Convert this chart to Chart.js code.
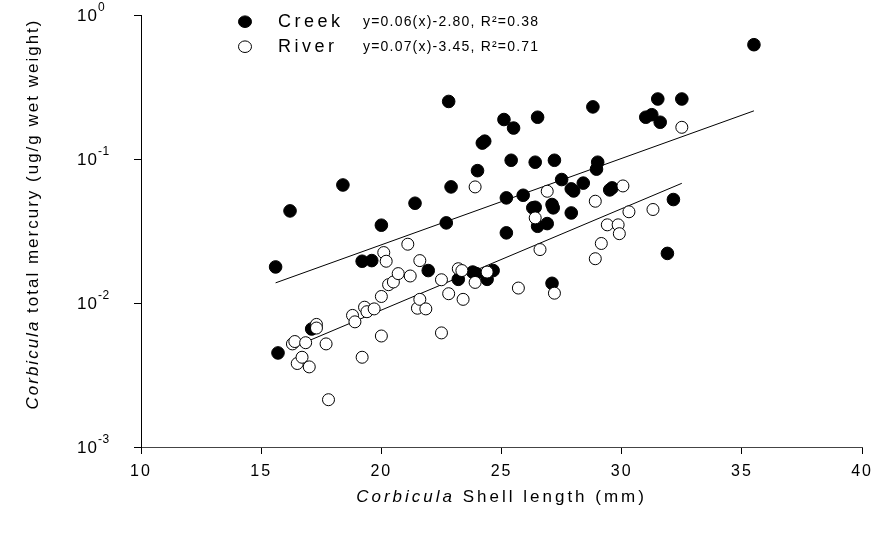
<!DOCTYPE html>
<html>
<head>
<meta charset="utf-8">
<script src="https://cdn.jsdelivr.net/npm/chart.js@4.4.1/dist/chart.umd.min.js"></script>
<style>
  html, body { margin: 0; padding: 0; background: #fff; }
  #wrap { width: 879px; height: 533px; }
</style>
</head>
<body>
<div id="wrap"><canvas id="canvas" width="879" height="533"></canvas></div>
<script>
// shell length (mm) and total mercury (ug/g wet weight)
const creekX = [15.6, 15.7, 16.2, 17.1, 18.4, 19.2, 19.6, 20.0, 21.4, 21.95, 22.7, 22.8, 22.9, 23.2,
    23.8, 23.95, 24.0, 24.2, 24.3, 24.4, 24.65, 25.1, 25.2, 25.2, 25.4, 25.5, 25.9, 26.3, 26.4,
    26.4, 26.5, 26.5, 26.9, 27.1, 27.15, 27.1, 27.2, 27.5, 27.9, 28.0, 27.9, 28.4, 28.8, 28.95,
    29.0, 29.5, 29.6, 31.0, 31.25, 31.5, 31.6, 31.9, 32.15, 32.5, 35.5];
const creekY = [0.0178, 0.0045, 0.0436, 0.0066, 0.066, 0.0195, 0.0197, 0.0347, 0.0493, 0.0168, 0.036,
    0.251, 0.064, 0.0146, 0.0164, 0.0160, 0.083, 0.129, 0.133, 0.0146, 0.0168, 0.188, 0.0537, 0.0307,
    0.098, 0.164, 0.056, 0.0458, 0.0462, 0.095, 0.195, 0.0341, 0.0356, 0.0483, 0.0458, 0.0137, 0.098,
    0.072, 0.062, 0.060, 0.0422, 0.068, 0.230, 0.085, 0.095, 0.061, 0.063, 0.195, 0.203, 0.261,
    0.180, 0.0221, 0.0523, 0.261, 0.622];

const riverX = [16.3, 16.4, 16.5, 16.7, 16.85, 17.0, 17.3, 17.3, 17.7, 17.8, 18.8, 18.9, 19.2, 19.3,
    19.4, 19.7, 20.0, 20.0, 20.1, 20.2, 20.3, 20.5, 20.7, 21.1, 21.2, 21.5, 21.6, 21.6, 21.85, 22.5,
    22.5, 22.8, 23.2, 23.35, 23.4, 23.9, 23.9, 24.4, 25.7, 26.4, 26.6, 26.9, 27.2, 28.9, 28.9, 29.15,
    29.4, 29.85, 29.9, 30.05, 30.3, 31.3, 32.5];
const riverY = [0.0052, 0.0054, 0.0038, 0.0042, 0.0053, 0.0036, 0.0071, 0.0067, 0.0052, 0.00213, 0.0082,
    0.0074, 0.0042, 0.00935, 0.0087, 0.0091, 0.0111, 0.0059, 0.0224, 0.0195, 0.0134, 0.0140, 0.0160,
    0.0256, 0.0154, 0.0092, 0.0106, 0.0197, 0.0091, 0.0145, 0.0062, 0.0116, 0.0173, 0.0168, 0.0106,
    0.0139, 0.064, 0.0164, 0.0127, 0.039, 0.0235, 0.0597, 0.0117, 0.0509, 0.0203, 0.0259, 0.0349,
    0.0349, 0.0303, 0.065, 0.0430, 0.0446, 0.166];

// end points of the two fitted lines
const creekFitX = [15.6, 35.5];
const creekFitY = [0.0138, 0.216];
const riverFitX = [16.3, 32.5];
const riverFitY = [0.0049, 0.0678];

const seriesNames = ['Creek', 'River'];
const fitLabels = ['y=0.06(x)-2.80, R\u00b2=0.38', 'y=0.07(x)-3.45, R\u00b2=0.71'];
const xTicks = [10, 15, 20, 25, 30, 35, 40];
const yTicks = [0.001, 0.01, 0.1, 1];
const yTickExponents = ['-3', '-2', '-1', '0'];

const FONT = '"Liberation Sans", Arial, sans-serif';

let pairs = function (xs, ys) {
    return xs.map((x, i) => ({x: x, y: ys[i]}));
}

let textParts = function (ctx, parts, x, y, align) {
    let total = 0;
    parts.forEach(p => { ctx.font = p.font; total += ctx.measureText(p.text).width; });
    let cx = align === 'center' ? x - total / 2 : x;
    parts.forEach(p => {
        ctx.font = p.font;
        ctx.fillText(p.text, cx, y);
        cx += ctx.measureText(p.text).width;
    });
}

const decorations = {
    id: 'decorations',
    beforeDraw(chart) {
        // spaced-out tick labels, as in the original export
        chart.ctx.letterSpacing = '2px';
    },
    afterDraw(chart) {
        const ctx = chart.ctx;
        const area = chart.chartArea;
        const yScale = chart.scales.y;
        ctx.save();
        ctx.fillStyle = '#000';
        ctx.textBaseline = 'middle';
        ctx.textAlign = 'left';

        // y tick labels with raised exponents
        yTicks.forEach((v, i) => {
            const py = yScale.getPixelForValue(v);
            ctx.letterSpacing = '1px';
            ctx.font = '17px ' + FONT;
            ctx.fillText('10', 77, py + 1);
            ctx.letterSpacing = '0.5px';
            ctx.font = '12px ' + FONT;
            ctx.fillText(yTickExponents[i], 98, py - 7);
        });

        // x title
        ctx.letterSpacing = '3px';
        textParts(ctx, [
            {text: 'Corbicula', font: 'italic 17px ' + FONT},
            {text: ' Shell length (mm)', font: '17px ' + FONT}
        ], (area.left + area.right) / 2, 497, 'center');

        // y title
        ctx.save();
        ctx.translate(33, 214);
        ctx.rotate(-Math.PI / 2);
        ctx.letterSpacing = '2px';
        textParts(ctx, [
            {text: 'Corbicula', font: 'italic 17px ' + FONT},
            {text: ' total mercury (ug/g wet weight)', font: '17px ' + FONT}
        ], 0, 0, 'center');
        ctx.restore();

        // legend
        const rows = [21.7, 46.7];
        rows.forEach((ry, i) => {
            ctx.beginPath();
            ctx.ellipse(245, ry, 6.5, 5.8, 0, 0, Math.PI * 2);
            ctx.fillStyle = i === 0 ? '#000' : '#fff';
            ctx.fill();
            ctx.lineWidth = 1;
            ctx.strokeStyle = '#000';
            ctx.stroke();
            ctx.fillStyle = '#000';
            ctx.letterSpacing = '3.5px';
            ctx.font = '18px ' + FONT;
            ctx.fillText(seriesNames[i], 278, ry);
            ctx.letterSpacing = '1.2px';
            ctx.font = '14px ' + FONT;
            ctx.fillText(fitLabels[i], 363, ry);
        });
        ctx.restore();
        ctx.letterSpacing = '0px';
    }
};

let main = function () {
    new Chart(document.getElementById('canvas').getContext('2d'), {
        type: 'scatter',
        data: {
            datasets: [{
                label: 'Creek fit',
                type: 'line',
                data: pairs(creekFitX, creekFitY),
                borderColor: '#000',
                borderWidth: 1,
                pointRadius: 0,
                order: 4
            }, {
                label: 'River fit',
                type: 'line',
                data: pairs(riverFitX, riverFitY),
                borderColor: '#000',
                borderWidth: 1,
                pointRadius: 0,
                order: 3
            }, {
                label: seriesNames[0],
                data: pairs(creekX, creekY),
                pointRadius: 6.3,
                pointBackgroundColor: '#000',
                pointBorderColor: '#000',
                pointBorderWidth: 1,
                order: 2
            }, {
                label: seriesNames[1],
                data: pairs(riverX, riverY),
                pointRadius: 6,
                pointBackgroundColor: '#fff',
                pointBorderColor: '#000',
                pointBorderWidth: 1,
                order: 1
            }]
        },
        options: {
            responsive: false,
            animation: false,
            events: [],
            layout: {padding: {top: 15, right: 15, left: 0, bottom: 0}},
            plugins: {
                legend: {display: false},
                tooltip: {enabled: false}
            },
            scales: {
                x: {
                    type: 'linear',
                    min: 10,
                    max: 40,
                    afterBuildTicks: s => { s.ticks = xTicks.map(v => ({value: v})); },
                    afterFit: s => { s.height = 86; },
                    ticks: {
                        color: '#000',
                        padding: 8,
                        font: {family: FONT, size: 16}
                    },
                    grid: {drawOnChartArea: false, tickLength: 7, color: '#000'},
                    border: {color: '#444', width: 1}
                },
                y: {
                    type: 'logarithmic',
                    min: 0.001,
                    max: 1,
                    afterBuildTicks: s => { s.ticks = yTicks.map(v => ({value: v})); },
                    afterFit: s => { s.width = 141; },
                    ticks: {display: false},
                    grid: {drawOnChartArea: false, tickLength: 7, color: '#000'},
                    border: {color: '#000', width: 1}
                }
            }
        },
        plugins: [decorations]
    });
}
main();
</script>
</body>
</html>
